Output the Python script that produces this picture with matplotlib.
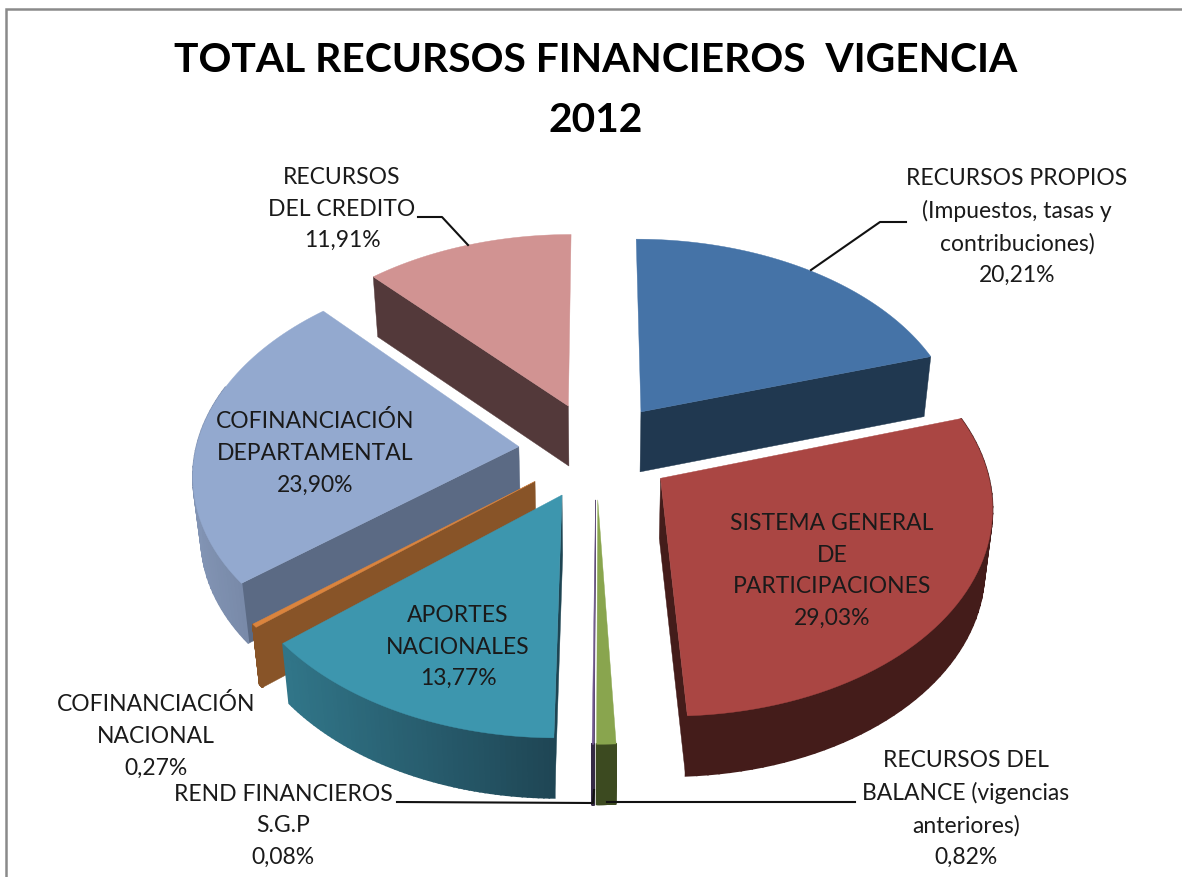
import numpy as np
import matplotlib as mpl
import matplotlib.pyplot as plt
from matplotlib.patches import Polygon

W, H = 1182, 877

# Data, clockwise from north
categories = ["RECURSOS PROPIOS", "SISTEMA GENERAL", "RECURSOS DEL BALANCE", "REND FINANCIEROS",
              "APORTES NACIONALES", "COFINANCIACION NACIONAL", "COFINANCIACION DEPARTAMENTAL", "RECURSOS DEL CREDITO"]
shares = [20.21, 29.03, 0.82, 0.08, 13.77, 0.27, 23.90, 11.91]

# colours per slice: top face, radial side, rim at left, rim at right
top_colors = ["#4573a7", "#aa4643", "#89a54e", "#71588f", "#3d96ae", "#db843d", "#93a9cf", "#d19392"]
side_colors = ["#203850", "#441c1a", "#3c4a20", "#352a45", "#1e4553", "#885428", "#5b6a84", "#53393a"]
rim_left = ["#203850", "#441c1a", "#3c4a20", "#352a45", "#317689", "#885428", "#8294b4", "#53393a"]
rim_right = ["#203850", "#441c1a", "#3c4a20", "#352a45", "#1f4655", "#885428", "#6a7a96", "#53393a"]

# projection of the tilted pie
CX, CY = 596, 450
RX, RY = 323, 202
PERSP = 0.12
DEPTH = 60
BOTTOM_SHRINK = 0.98
EXPLODE = 0.24
N_RIM = 60


def project(u, v):
    s = 1 / (1 + PERSP * v)
    return CX + RX * u * s, CY - RY * v * s


def lower(x, y):
    # same point on the underside of the pie
    return CX + (x - CX) * BOTTOM_SHRINK, y + DEPTH


def slice_points(a0, a1):
    # rim of one exploded slice, angles in radians clockwise from north
    mid = (a0 + a1) / 2
    ox, oy = EXPLODE * np.sin(mid), EXPLODE * np.cos(mid)
    t = np.linspace(a0, a1, N_RIM)
    rx, ry = project(ox + np.sin(t), oy + np.cos(t))
    x0, y0 = project(ox, oy)
    return x0, y0, rx, ry, t


def mix(c0, c1, f):
    c0, c1 = np.array(mpl.colors.to_rgb(c0)), np.array(mpl.colors.to_rgb(c1))
    return tuple(c0 + (c1 - c0) * f)


fig = plt.figure(figsize=(W / 100, H / 100), dpi=100, facecolor="w")
ax = fig.add_axes([0, 0, 1, 1])
ax.set_xlim(0, W)
ax.set_ylim(H, 0)
ax.axis("off")

# chart border, runs off the right and bottom edge
ax.plot([6, 6, W + 5], [H + 5, 9, 9], color="#8a8a8a", lw=1.8, solid_joinstyle="miter")

edges = np.radians(np.concatenate([[0], np.cumsum(shares)]) * 3.6)
for i in [7, 0, 6, 1, 5, 4, 3, 2]:
    x0, y0, rx, ry, t = slice_points(edges[i], edges[i + 1])
    # straight sides, only the ones turned to the viewer
    for k, visible in [(0, np.sin(edges[i]) < -1e-6), (-1, np.sin(edges[i + 1]) > 1e-6)]:
        if not visible:
            continue
        quad = [(x0, y0), (rx[k], ry[k]), lower(rx[k], ry[k]), lower(x0, y0)]
        ax.add_patch(Polygon(quad, fc=side_colors[i], ec=side_colors[i], lw=0.3, zorder=2))
    # rim, split into small quads to get the shading; the back part stays hidden
    xmin, xmax = rx.min(), rx.max()
    for j in range(len(rx) - 1):
        if np.cos(t[j]) > 0.3:
            continue
        f = (rx[j] - xmin) / max(xmax - xmin, 1)
        c = mix(rim_left[i], rim_right[i], f)
        quad = [(rx[j], ry[j]), (rx[j + 1], ry[j + 1]), lower(rx[j + 1], ry[j + 1]), lower(rx[j], ry[j])]
        ax.add_patch(Polygon(quad, fc=c, ec=c, lw=1.2, zorder=2))
    pts = np.column_stack([np.r_[x0, rx], np.r_[y0, ry]])
    ax.add_patch(Polygon(pts, fc=top_colors[i], ec=top_colors[i], lw=0.3, zorder=2))

plt.rcParams["font.family"] = ["Lato", "DejaVu Sans"]
TXT = "#1a1a1a"

ax.text(596, 60, "TOTAL RECURSOS FINANCIEROS  VIGENCIA", ha="center", va="center",
        fontsize=29.3, fontweight="bold", color="black")
ax.text(596, 120, "2012", ha="center", va="center", fontsize=29.3, fontweight="bold", color="black")

labels = [
    (1017, 227, "RECURSOS PROPIOS\n(Impuestos, tasas y\ncontribuciones)\n20,21%"),
    (832, 571, "SISTEMA GENERAL\nDE\nPARTICIPACIONES\n29,03%"),
    (966, 809, "RECURSOS DEL\nBALANCE (vigencias\nanteriores)\n0,82%"),
    (283, 826, "REND FINANCIEROS\nS.G.P\n0,08%"),
    (458, 647, "APORTES\nNACIONALES\n13,77%"),
    (156, 736, "COFINANCIACIÓN\nNACIONAL\n0,27%"),
    (315, 453, "COFINANCIACIÓN\nDEPARTAMENTAL\n23,90%"),
    (342, 209, "RECURSOS\nDEL CREDITO\n11,91%"),
]
for x, y, s in labels:
    ax.text(x, y, s, ha="center", va="center", fontsize=16.5, color=TXT, linespacing=1.62)

# leader lines
leaders = [
    ([906, 880, 811], [222, 222, 270]),
    ([418, 442, 468], [217, 217, 245]),
    ([855, 607], [802, 802]),
    ([397, 593, 594], [802, 803, 790]),
]
for lx, ly in leaders:
    ax.plot(lx, ly, color="#111111", lw=1.5, zorder=3)

fig.savefig("out.png", dpi=100)
